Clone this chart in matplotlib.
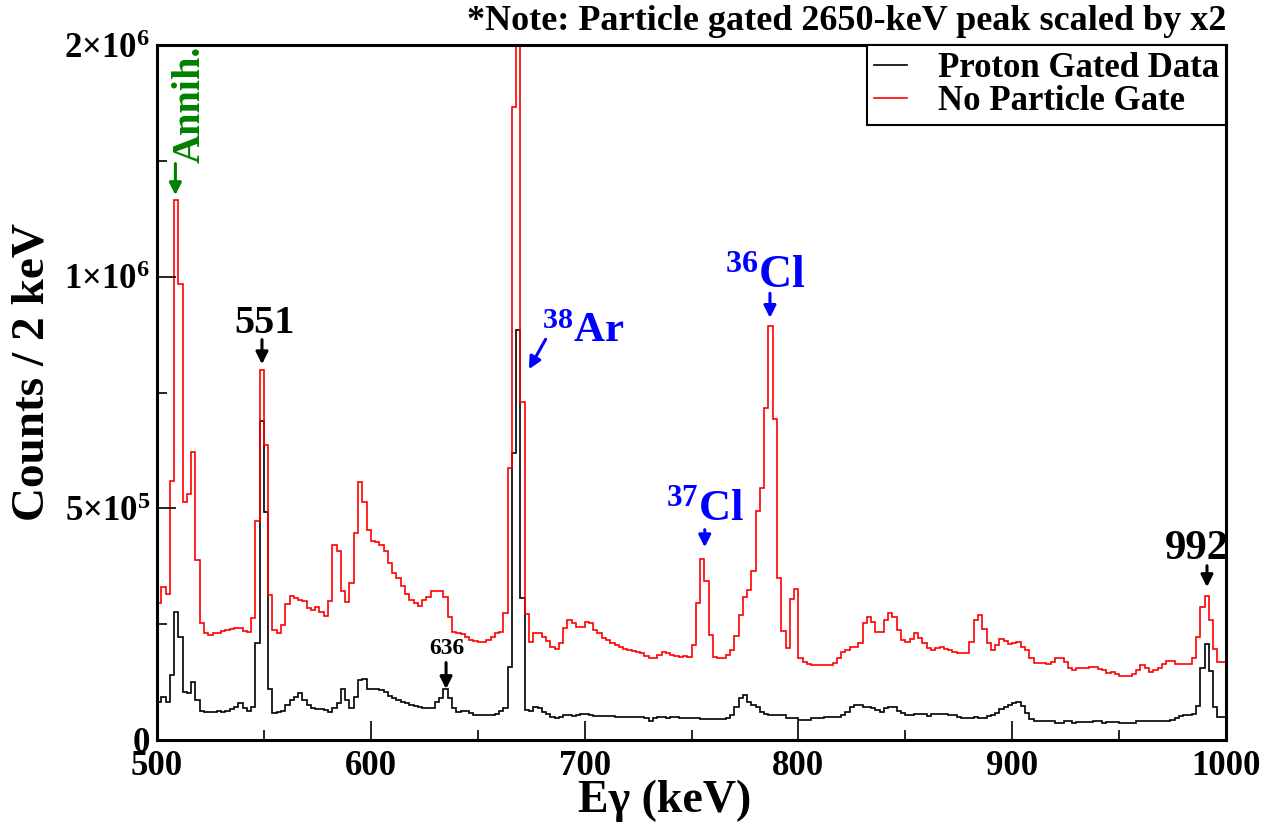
import numpy as np
import matplotlib
matplotlib.use("Agg")
import matplotlib.pyplot as plt
from matplotlib.ticker import MultipleLocator

plt.rcParams['font.family'] = ['Liberation Serif', 'DejaVu Serif']
plt.rcParams['font.weight'] = 'bold'
plt.rcParams['mathtext.fontset'] = 'custom'
plt.rcParams['mathtext.rm'] = 'Liberation Serif:bold'
plt.rcParams['mathtext.it'] = 'Liberation Serif:bold'
plt.rcParams['mathtext.bf'] = 'Liberation Serif:bold'
plt.rcParams['mathtext.default'] = 'rm'

# 2 keV bins from 500 to 1000 keV, counts in units of 1e3
bin_edges = np.arange(500, 1002, 2)

proton_gated = [
    83, 93, 83, 140, 277, 223, 103, 101, 126, 86,
    63, 60, 61, 61, 62, 61, 63, 66, 72, 79,
    68, 63, 72, 209, 689, 493, 111, 58, 60, 63,
    75, 86, 93, 101, 86, 75, 68, 66, 66, 65,
    61, 68, 79, 111, 86, 68, 93, 129, 131, 111,
    109, 109, 108, 104, 95, 90, 86, 81, 79, 75,
    73, 72, 70, 68, 68, 81, 90, 109, 90, 68,
    61, 63, 63, 59, 55, 54, 55, 55, 55, 57,
    63, 68, 158, 620, 885, 306, 65, 63, 72, 70,
    61, 57, 50, 47, 50, 54, 54, 52, 54, 56,
    57, 54, 52, 52, 52, 52, 52, 50, 50, 50,
    50, 49, 50, 50, 47, 40, 47, 49, 49, 48,
    50, 50, 47, 48, 47, 47, 47, 45, 45, 45,
    45, 45, 45, 47, 54, 72, 91, 97, 83, 75,
    72, 61, 57, 54, 54, 55, 54, 47, 47, 47,
    43, 43, 43, 47, 47, 47, 49, 49, 49, 49,
    54, 61, 72, 75, 75, 72, 72, 70, 65, 61,
    68, 72, 72, 63, 59, 54, 54, 56, 56, 56,
    52, 56, 57, 57, 57, 55, 54, 50, 47, 47,
    47, 50, 48, 47, 52, 54, 59, 66, 72, 75,
    79, 81, 73, 59, 45, 42, 40, 40, 42, 40,
    37, 37, 42, 40, 37, 38, 38, 38, 38, 42,
    40, 37, 38, 38, 38, 37, 37, 37, 37, 40,
    42, 40, 40, 40, 40, 40, 40, 43, 47, 52,
    54, 54, 57, 73, 155, 207, 150, 72, 50, 50,
]

no_gate = [
    295, 331, 315, 560, 1165, 984, 513, 531, 621, 388,
    252, 232, 227, 230, 232, 235, 237, 239, 241, 241,
    236, 233, 264, 473, 798, 637, 313, 237, 232, 248,
    293, 311, 306, 303, 299, 284, 281, 288, 277, 268,
    300, 421, 408, 321, 297, 338, 446, 557, 514, 453,
    429, 427, 421, 408, 383, 360, 349, 333, 315, 302,
    295, 290, 302, 309, 321, 321, 321, 309, 266, 234,
    230, 228, 223, 216, 214, 211, 211, 216, 223, 232,
    234, 275, 588, 1367, 2400, 730, 273, 211, 230, 230,
    223, 214, 200, 196, 209, 241, 259, 253, 243, 243,
    255, 252, 237, 230, 221, 216, 209, 204, 200, 196,
    194, 192, 189, 187, 181, 178, 178, 183, 191, 187,
    183, 181, 180, 181, 180, 205, 295, 391, 343, 227,
    180, 176, 176, 183, 195, 224, 270, 308, 324, 365,
    494, 543, 716, 893, 692, 349, 235, 199, 305, 325,
    178, 169, 164, 162, 162, 162, 162, 162, 166, 176,
    191, 195, 200, 201, 209, 252, 265, 255, 234, 234,
    259, 275, 266, 237, 216, 212, 219, 230, 221, 210,
    198, 195, 198, 200, 196, 194, 191, 187, 187, 188,
    212, 259, 270, 239, 209, 194, 205, 218, 214, 207,
    210, 212, 201, 194, 176, 167, 167, 167, 164, 169,
    178, 178, 169, 156, 151, 155, 156, 156, 157, 158,
    153, 151, 145, 147, 142, 139, 139, 139, 142, 151,
    162, 156, 147, 151, 156, 163, 171, 171, 165, 163,
    164, 164, 176, 223, 288, 311, 259, 196, 169, 169,
]

proton_gated = np.array(proton_gated) * 1e3
no_gate = np.array(no_gate) * 1e3

fig = plt.figure(figsize=(12.73, 8.23), dpi=100)
ax = fig.add_axes([157 / 1273, 1 - 740 / 823, (1226 - 157) / 1273, (740 - 45) / 823])

ax.stairs(proton_gated, bin_edges, color='black', lw=1.2, label='Proton Gated Data')
ax.stairs(no_gate, bin_edges, color='red', lw=1.2, label='No Particle Gate')

ax.set_xlim(500, 1000)
ax.set_ylim(0, 1.5e6)

ax.xaxis.set_major_locator(MultipleLocator(100))
ax.xaxis.set_minor_locator(MultipleLocator(50))
ax.set_yticks([0, 5e5, 1e6, 1.5e6])
ax.set_yticklabels(['0', '5×10$^{5}$', '1×10$^{6}$', '2×10$^{6}$'])
ax.yaxis.set_minor_locator(MultipleLocator(2.5e5))
ax.tick_params(which='both', direction='in', top=False, right=False, labelsize=25, width=1.2)
ax.tick_params(which='major', length=14)
ax.tick_params(which='minor', length=7)
ax.tick_params(axis='x', pad=7)
ax.tick_params(axis='y', pad=5)
for s in ax.spines.values():
    s.set_linewidth(2.2)

fig.text(665 / 1273, 1 - 801 / 823, 'Eγ (keV)', ha='center', va='center', fontsize=33)
fig.text(33 / 1273, 1 - 372 / 823, 'Counts / 2 keV', ha='center', va='center',
         rotation=90, fontsize=34)
fig.text(1226 / 1273, 1 - 22 / 823, '*Note: Particle gated 2650-keV peak scaled by x2',
         ha='right', va='center', fontsize=26)

leg = ax.legend(loc='upper right', bbox_to_anchor=(1.0, 1.0), borderaxespad=0,
                fancybox=False, edgecolor='black', framealpha=1, fontsize=25,
                handlelength=0.95, handletextpad=0.9, borderpad=0.2, labelspacing=0.0)
leg.get_frame().set_linewidth(1.5)


def arrow(e, v_tail, e_tip, v_tip, color):
    ax.annotate('', xy=(e_tip, v_tip), xytext=(e, v_tail),
                arrowprops=dict(arrowstyle='-|>', color=color, lw=2.2, mutation_scale=18))


blue = '#0000ff'
green = '#008000'

ax.text(515.5, 1.245e6, 'Annih.', rotation=90, ha='center', va='bottom', color=green, fontsize=29)
arrow(508.6, 1.25e6, 508.6, 1.17e6, green)

ax.text(550.5, 0.86e6, '551', ha='center', va='bottom', fontsize=29)
arrow(549.1, 0.87e6, 549.1, 0.805e6, 'black')

ax.text(635.6, 0.175e6, '636', ha='center', va='bottom', fontsize=17)
arrow(635.2, 0.173e6, 635.2, 0.104e6, 'black')

ax.text(680.0, 0.86e6, '$^{38}$Ar', ha='left', va='baseline', color=blue, fontsize=31)
arrow(682.4, 0.87e6, 673.3, 0.795e6, blue)

ax.text(765.5, 0.975e6, '$^{36}$Cl', ha='left', va='baseline', color=blue, fontsize=33)
arrow(786.7, 0.97e6, 786.7, 0.905e6, blue)

ax.text(738.0, 0.475e6, '$^{37}$Cl', ha='left', va='baseline', color=blue, fontsize=32)
arrow(756.2, 0.46e6, 756.2, 0.41e6, blue)

ax.text(986.5, 0.39e6, '992', ha='center', va='baseline', fontsize=31)
arrow(991.1, 0.382e6, 991.1, 0.324e6, 'black')

fig.savefig('out.png', dpi=100)
